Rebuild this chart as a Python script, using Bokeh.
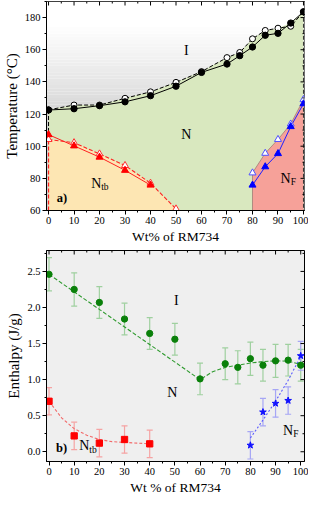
import numpy as np
from bokeh.plotting import figure
from bokeh.models import (ColumnDataSource, Range1d, SingleIntervalTicker,
                          Whisker, TeeHead, NumeralTickFormatter)
from bokeh.core.properties import value
from bokeh.layouts import column
from bokeh.embed import file_html
from bokeh.resources import INLINE

FONT = "Liberation Serif"
FONT_V = value(FONT)

# ---------------- panel a) phase diagram ----------------
wt_in = [0, 10, 20, 30, 40, 50, 60, 70, 75, 80, 85, 90, 95, 100]
t_in_fill = [122.5, 123.3, 125.2, 127.6, 131.4, 137.3, 145.9, 151.1, 156.3, 161.7, 169.0, 170.2, 176.6, 183.6]
t_in_open = [122.6, 125.6, 125.6, 129.8, 133.8, 139.7, 146.4, 155.1, 158.3, 166.8, 172.0, 173.4, 174.6, 183.6]

wt_ntb = [0, 10, 20, 30, 40]
t_ntb_fill = [107.2, 100.2, 93.2, 85.0, 75.8]
wt_ntb_open = [0, 10, 20, 30, 40, 50]
t_ntb_open = [104.2, 102.2, 95.2, 88.0, 77.0, 61.0]

wt_nf = [80, 85, 90, 95, 100]
t_nf_fill = [75.8, 87.2, 95.4, 112.2, 126.4]
t_nf_open = [83.4, 95.6, 104.2, 113.8, 129.0]

a_labels = ["I", "N", "N", "N", "a)"]
a_lab_x = [54, 54, 18.7, 93, 3.2]
a_lab_y = [159.5, 107, 77, 80, 67.5]
a_sub = ["tb", "F"]
a_sub_x = [18.7, 93]
a_sub_y = [77, 80]

# ---------------- panel b) enthalpy ----------------
wt_h = [0, 10, 20, 30, 40, 50, 60, 70, 75, 80, 85, 90, 95, 100]
h_ni = [2.46, 2.25, 2.07, 1.84, 1.64, 1.56, 1.01, 1.22, 1.17, 1.29, 1.20, 1.26, 1.27, 1.20]
h_ni_err = [0.23, 0.23, 0.22, 0.22, 0.22, 0.22, 0.22, 0.22, 0.23, 0.23, 0.22, 0.23, 0.22, 0.22]

wt_hb = [0, 10, 20, 30, 40]
h_ntb = [0.70, 0.22, 0.12, 0.17, 0.11]
h_ntb_err = [0.19, 0.19, 0.19, 0.19, 0.19]

wt_hf = [80, 85, 90, 95, 100]
h_nf = [0.09, 0.55, 0.67, 0.71, 1.33]
h_nf_err = [0.19, 0.19, 0.19, 0.19, 0.20]

fit_ni_x = [0, 60, 65, 70, 75, 80, 85, 90, 95, 100]
fit_ni_y = [2.46, 1.00, 1.11, 1.17, 1.20, 1.23, 1.25, 1.26, 1.255, 1.21]
fit_ntb_x = [0, 5, 10, 15, 20, 25, 30, 35, 40]
fit_ntb_y = [0.70, 0.47, 0.32, 0.23, 0.17, 0.14, 0.13, 0.12, 0.11]
fit_nf_x = [80, 85, 90, 95, 100]
fit_nf_y = [0.19, 0.44, 0.70, 0.99, 1.32]

b_labels = ["I", "N", "N", "N", "b)"]
b_lab_x = [50.6, 49, 14, 95, 2.8]
b_lab_y = [2.10, 0.82, 0.08, 0.30, 0.05]
b_sub = ["tb", "F"]
b_sub_x = [14, 95]
b_sub_y = [0.08, 0.30]

x_tick_interval = 10


def style_axes(p, xlabel, ylabel, yint, yfmt=None):
    p.grid.visible = False
    p.outline_line_color = "black"
    p.outline_line_width = 1
    p.xaxis.ticker = SingleIntervalTicker(interval=x_tick_interval, num_minor_ticks=2)
    p.yaxis.ticker = SingleIntervalTicker(interval=yint, num_minor_ticks=2)
    if yfmt:
        p.yaxis.formatter = NumeralTickFormatter(format=yfmt)
    p.xaxis.axis_label = xlabel
    p.yaxis.axis_label = ylabel
    for ax in p.xaxis + p.yaxis:
        ax.axis_line_color = "black"
        ax.major_tick_line_color = "black"
        ax.minor_tick_line_color = "black"
        ax.major_tick_out = 4
        ax.major_tick_in = 0
        ax.minor_tick_out = 2
        ax.minor_tick_in = 0
        ax.major_label_text_font = FONT
        ax.major_label_text_font_size = "10.5px"
        ax.major_label_text_color = "black"
        ax.major_label_standoff = 2
        ax.axis_label_text_font = FONT
        ax.axis_label_text_font_style = "normal"
        ax.axis_label_text_color = "black"
        ax.axis_label_standoff = 2
    p.xaxis.axis_label_text_font_size = "13.5px"
    p.yaxis.axis_label_text_font_size = "15px"


def mirror_ticks(p, xr, yr, yint):
    # inward tick marks on the top and right edges of the frame
    x0, x1 = xr
    y0, y1 = yr
    xs = np.arange(np.ceil(x0 / (x_tick_interval / 2)) * (x_tick_interval / 2), x1 + 1e-9, x_tick_interval / 2)
    ys = np.arange(np.ceil(y0 / (yint / 2)) * (yint / 2), y1 + 1e-9, yint / 2)
    xmaj = [v for v in xs if abs(v / x_tick_interval - round(v / x_tick_interval)) < 1e-6]
    xmin = [v for v in xs if abs(v / x_tick_interval - round(v / x_tick_interval)) >= 1e-6]
    ymaj = [v for v in ys if abs(v / yint - round(v / yint)) < 1e-6]
    ymin = [v for v in ys if abs(v / yint - round(v / yint)) >= 1e-6]
    p.ray(x=xmaj, y=[y1] * len(xmaj), length=4, length_units="screen", angle=-np.pi / 2, line_color="black")
    p.ray(x=xmin, y=[y1] * len(xmin), length=2, length_units="screen", angle=-np.pi / 2, line_color="black")
    p.ray(x=[x1] * len(ymaj), y=ymaj, length=4, length_units="screen", angle=np.pi, line_color="black")
    p.ray(x=[x1] * len(ymin), y=ymin, length=2, length_units="screen", angle=np.pi, line_color="black")


def add_labels(p, labs, lx, ly, subs, sx, sy):
    p.text(x=lx[:-1], y=ly[:-1], text=labs[:-1], text_font=FONT_V, text_font_size="14px",
           text_align="center", text_baseline="middle", text_color="black")
    p.text(x=[lx[-1]], y=[ly[-1]], text=[labs[-1]], text_font=FONT_V, text_font_size="12.5px",
           text_font_style="bold", text_align="left", text_baseline="middle", text_color="black")
    p.text(x=sx, y=sy, text=subs, text_font=FONT_V, text_font_size="9.5px",
           text_align="left", text_baseline="middle", text_color="black",
           x_offset=5, y_offset=4)


# ---------- figure a ----------
xa = (-0.8, 100.4)
ya0, ya1 = 60, 190
p1 = figure(width=308, height=246, x_range=Range1d(*xa), y_range=Range1d(ya0, ya1),
            output_backend="svg", toolbar_location=None,
            min_border_left=0, min_border_right=4, min_border_top=1, min_border_bottom=0)
style_axes(p1, "Wt% of RM734", "Temperature (°C)", 20)

# background gradient (white at top -> grey near 120 °C)
edges = np.linspace(ya0, ya1, 66)
cols = []
for lo, hi in zip(edges[:-1], edges[1:]):
    t = np.clip(((lo + hi) / 2 - 118) / (175 - 118), 0, 1)
    g = int(208 + (255 - 208) * t ** 0.8)
    cols.append("#%02x%02x%02x" % (g, g, g))
p1.quad(left=-5, right=105, bottom=edges[:-1], top=edges[1:], fill_color=cols, line_color=None)

green_top = [max(a, b) for a, b in zip(t_in_open, t_in_fill)]
p1.varea(x=wt_in, y1=[ya0] * len(wt_in), y2=green_top, fill_color="#d9e8bf")
p1.varea(x=wt_ntb_open, y1=[ya0] * len(wt_ntb_open), y2=t_ntb_open, fill_color="#fde6b3")
p1.varea(x=wt_nf, y1=[ya0] * len(wt_nf), y2=t_nf_open, fill_color="#f6a199")
p1.segment(x0=[wt_nf[0]], y0=[ya0], x1=[wt_nf[0]], y1=[t_nf_open[0]], line_color="#b08a80", line_width=1)
p1.line(wt_nf, t_nf_open, line_color="#b08a80", line_width=1)

# vertical dashed borders
p1.segment(x0=[wt_in[0]], y0=[t_in_fill[0]], x1=[wt_in[0]], y1=[t_ntb_fill[0]],
           line_color="black", line_dash="4 2", line_width=1)
p1.segment(x0=[wt_ntb[0]], y0=[t_ntb_fill[0]], x1=[wt_ntb[0]], y1=[ya0],
           line_color="#ff2020", line_dash="4 2", line_width=1.2)
p1.segment(x0=[wt_in[-1]], y0=[t_in_fill[-1]], x1=[wt_in[-1]], y1=[ya0],
           line_color="#333333", line_dash="4 2", line_width=1)

p1.line(wt_in, t_in_open, line_color="black", line_dash="4 2", line_width=1)
p1.line(wt_in, t_in_fill, line_color="black", line_width=1)
p1.line(wt_ntb_open, t_ntb_open, line_color="#ff2020", line_dash="4 2", line_width=1.1)
p1.line(wt_ntb, t_ntb_fill, line_color="#ff2020", line_width=1)
p1.line(wt_nf, t_nf_fill, line_color="#2020ff", line_width=1)

p1.scatter(wt_in, t_in_open, marker="circle", size=6, fill_color="white", line_color="black")
p1.scatter(wt_in, t_in_fill, marker="circle", size=6.3, fill_color="black", line_color="black")
p1.scatter(wt_ntb_open, t_ntb_open, marker="triangle", size=7, fill_color="white", line_color="#ff3030")
p1.scatter(wt_ntb, t_ntb_fill, marker="triangle", size=7, fill_color="#ff0000", line_color="#ff0000")
p1.scatter(wt_nf, t_nf_open, marker="triangle", size=7, fill_color="white", line_color="#5050ff")
p1.scatter(wt_nf, t_nf_fill, marker="triangle", size=7, fill_color="#0000ff", line_color="#0000ff")
add_labels(p1, a_labels, a_lab_x, a_lab_y, a_sub, a_sub_x, a_sub_y)
mirror_ticks(p1, xa, (ya0, ya1), 20)

# ---------- figure b ----------
xb = (-1, 101.5)
yb = (-0.135, 2.79)
p2 = figure(width=308, height=251, x_range=Range1d(*xb), y_range=Range1d(*yb),
            output_backend="svg", toolbar_location=None, background_fill_color="#efefef",
            min_border_left=0, min_border_right=4, min_border_top=4, min_border_bottom=0)
style_axes(p2, "Wt % of RM734", "Enthalpy (J/g)", 0.5, "0.0")


def errbars(p, x, y, e, color):
    src = ColumnDataSource(dict(x=x, upper=[a + b for a, b in zip(y, e)], lower=[a - b for a, b in zip(y, e)]))
    w = Whisker(base="x", upper="upper", lower="lower", source=src, line_color=color, line_width=1.2,
                upper_head=TeeHead(size=6, line_color=color, line_width=1.2),
                lower_head=TeeHead(size=6, line_color=color, line_width=1.2))
    p.add_layout(w)


errbars(p2, wt_h, h_ni, h_ni_err, "#9fd09f")
errbars(p2, wt_hb, h_ntb, h_ntb_err, "#f5a3a3")
errbars(p2, wt_hf, h_nf, h_nf_err, "#a6a6f5")

p2.line(fit_ni_x, fit_ni_y, line_color="#2e9a2e", line_dash="4 2", line_width=1.1)
p2.line(fit_ntb_x, fit_ntb_y, line_color="#f26a6a", line_dash="3 2", line_width=1.1)
p2.line(fit_nf_x, fit_nf_y, line_color="#5a5aff", line_dash="2 2", line_width=1.1)

p2.scatter(wt_h, h_ni, marker="circle", size=6.3, fill_color="#0a800a", line_color="#0a800a")
p2.scatter(wt_hb, h_ntb, marker="square", size=6.3, fill_color="#ff0000", line_color="#ff0000")
p2.scatter(wt_hf, h_nf, marker="star", size=7, fill_color="#1010ff", line_color="#1010ff")
add_labels(p2, b_labels, b_lab_x, b_lab_y, b_sub, b_sub_x, b_sub_y)
mirror_ticks(p2, xb, yb, 0.5)

layout = column(p1, p2, spacing=0)
open("out.html", "w").write(file_html(layout, INLINE))
